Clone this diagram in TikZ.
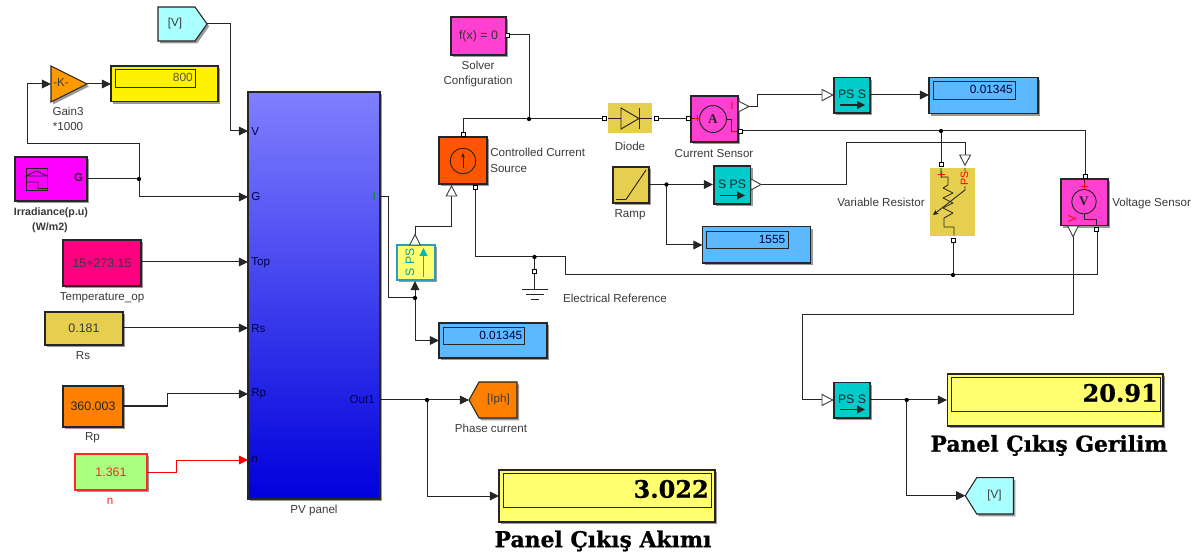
\documentclass[tikz,border=0pt]{standalone}
\usepackage{fontspec}
\setmainfont{Liberation Sans}
\newfontfamily\serifbig[FakeBold=0.8]{DejaVu Serif Bold}
\newfontfamily\symf{Liberation Serif}
\usetikzlibrary{arrows.meta,shadows,calc}
\definecolor{txt}{HTML}{3A3A3A}
\definecolor{panelblue}{HTML}{5CB8FF}
\definecolor{bigyellow}{HTML}{FFFF70}
\definecolor{gold}{HTML}{E6CE4E}
\definecolor{teal}{HTML}{00CCCC}
\definecolor{pinkm}{HTML}{FF40D0}
\definecolor{magfull}{HTML}{FF00FF}
\definecolor{gotocyan}{HTML}{AAFFFF}
\definecolor{gainor}{HTML}{FF9A00}
\tikzset{
  shad/.style={drop shadow={shadow xshift=1.6pt,shadow yshift=-1.8pt,opacity=.4,fill=black}},
  blockbox/.style={draw=black!85,line width=.8pt,inner sep=0pt,outer sep=0pt,shad,text=txt,font=\fontsize{9.3}{10}\selectfont},
  flatbox/.style={inner sep=0pt,outer sep=0pt},
  lab/.style={text=txt,font=\fontsize{8.7}{10}\selectfont,inner sep=0pt,text height=5.8pt,text depth=1.7pt,yshift=-1.1pt},
  portlab/.style={text=black!70!blue,font=\fontsize{8.7}{10}\selectfont,inner sep=0pt,anchor=west,yshift=-.6pt},
  wire/.style={draw=black!85,line width=.75pt},
  arr/.style={wire,-{Triangle[length=6.8pt,width=6.5pt]}},
  redarr/.style={draw=red,line width=.75pt,-{Triangle[length=6.8pt,width=6.5pt]}},
  portsq/.style={draw=black,fill=white,line width=.6pt,minimum size=3pt,inner sep=0pt,outer sep=0pt},
  opentri/.style={draw=black!75,fill=white,line width=.7pt},
  dispinner/.style={draw=black!85,line width=.6pt},
  disptext/.style={inner sep=0pt,anchor=east,text=black!80!blue,font=\fontsize{8.9}{10}\selectfont},
  bigval/.style={inner sep=0pt,anchor=east,text=black,font=\serifbig\fontsize{18}{20}\selectfont},
  bigcap/.style={inner sep=0pt,text=black,font=\serifbig\fontsize{16.4}{19}\selectfont},
  dotj/.style={fill=black},
  sym/.style={draw=black!85,line width=.7pt},
  redt/.style={text=red,inner sep=0pt,font=\fontsize{8}{9}\selectfont}
}
\newcommand{\blk}[7]{%
  \pgfmathsetmacro\bw{(#4-#2)*0.75}\pgfmathsetmacro\bh{(#5-#3)*0.75}%
  \node[#6,minimum width=\bw pt,minimum height=\bh pt] (#1) at ({(#2+#4)/2},{(#3+#5)/2}) {#7};}
\newcommand{\jdot}[1]{\fill[dotj] (#1) circle (1.6pt);}
\begin{document}
\begin{tikzpicture}[x=0.75pt,y=-0.75pt]
\useasboundingbox (0,0) rectangle (1198,555);
\fill[white] (0,0) rectangle (1198,555);

% ---------- named coordinates
\coordinate (pvV) at (248,131);
\coordinate (pvG) at (248,197);
\coordinate (pvTop) at (248,262);
\coordinate (pvRs) at (248,328);
\coordinate (pvRp) at (248,394);
\coordinate (pvn) at (248,460);
\coordinate (pvI) at (380,197);
\coordinate (pvOut) at (380,400);
\coordinate (jG) at (139,179);
\coordinate (jI) at (415,298);
\coordinate (jOut) at (427,400);
\coordinate (jTop) at (529,119);
\coordinate (jGnd) at (534.5,257);
\coordinate (jRes) at (953,275);
\coordinate (jPos) at (941,131);
\coordinate (jRamp) at (666.5,184.5);
\coordinate (jPSV) at (906.7,400);
\coordinate (gotoVin) at (207,24);
\coordinate (gainIn) at (51,84);
\coordinate (gainOut) at (87,84);
\coordinate (iphTip) at (469,400);
\coordinate (vTip) at (965.3,495.7);
\coordinate (triSPSin) at (451.5,196);
\coordinate (triSPSout) at (415,235);
\coordinate (triCSout) at (749,106.5);
\coordinate (triPS1in) at (822,95);
\coordinate (triSPS2out) at (761,184.5);
\coordinate (triVRin) at (965,155);
\coordinate (triVSout) at (1073,236.7);
\coordinate (triPS2in) at (822,400);

% ---------- wires
\draw[arr] (gotoVin) -- (230,24) -- (230,131) -- (pvV);
\draw[wire] (jG) -- (87,179);
\draw[arr] (jG) -- (139,197) -- (pvG);
\draw[arr] (jG) -- (139,144) -- (27,144) -- (27,84) -- (gainIn);
\draw[arr] (gainOut) -- (111,84);
\draw[arr] (141,262) -- (pvTop);
\draw[arr] (123,328) -- (pvRs);
\draw[arr] (123,406) -- (167,406) -- (167,394) -- (pvRp);
\draw[redarr] (147,472) -- (176,472) -- (176,460) -- (pvn);
\draw[wire] (pvI) -- (388,197) -- (388,298) -- (jI);
\draw[arr] (jI) -- (415,281);
\draw[arr] (jI) -- (415,340.5) -- (439,340.5);
\draw[wire] (triSPSout) -- (415,227) -- (451.5,227) -- (triSPSin);
\draw[arr] (pvOut) -- (iphTip);
\draw[arr] (jOut) -- (427,496) -- (499,496);
\draw[wire] (508,35) -- (529,35) -- (jTop);
\draw[wire] (463,135) -- (463,119) -- (604,119);
\draw[wire] (657,119) -- (688,119);
\draw[wire] (triCSout) -- (757,106.5) -- (757,95) -- (triPS1in);
\draw[arr] (870,95) -- (929,95);
\draw[wire] (741,131) -- (1085,131) -- (1085,176);
\draw[wire] (jPos) -- (941,164);
\draw[wire] (475,188) -- (475,257) -- (565,257) -- (565,275) -- (1097,275) -- (1097,229);
\draw[wire] (jGnd) -- (534.5,272);
\draw[wire] (534.5,272) -- (534.5,289);
\draw[wire] (jRes) -- (953,241);
\draw[arr] (649,184.5) -- (713,184.5);
\draw[arr] (jRamp) -- (666.5,245) -- (702.5,245);
\draw[wire] (triSPS2out) -- (846,184.5) -- (846,143) -- (965,143) -- (triVRin);
\draw[wire] (triVSout) -- (1073,315) -- (802,315) -- (802,400) -- (triPS2in);
\draw[arr] (870,400) -- (947,400);
\draw[arr] (jPSV) -- (906.7,495.7) -- (vTip);

\jdot{jG}\jdot{jI}\jdot{jOut}\jdot{jTop}\jdot{jGnd}\jdot{jRes}\jdot{jPos}\jdot{jRamp}\jdot{jPSV}

% ---------- PV panel and left column
\blk{pv}{248}{92}{380}{499}{blockbox,top color=white!50!blue,bottom color=blue!86!black}{}
\node[portlab] (lV) at (251,131) {V};
\node[portlab] (lG) at (251,196) {G};
\node[portlab] (lTop) at (251,262) {Top};
\node[portlab] (lRs) at (251,328) {Rs};
\node[portlab] (lRp) at (251,393) {Rp};
\node[portlab] (ln) at (251,459) {n};
\node[portlab,anchor=east,text=green!60!black] (lI) at (376,196) {I};
\node[portlab,anchor=east] (lOut) at (375,399) {Out1};
\node[lab] (tpv) at (314,509) {PV panel};

\draw[blockbox,fill=gotocyan] (158,7) -- (195,7) -- (gotoVin) -- (195,41) -- (158,41) -- cycle;
\node[lab] (tgv) at (175,22) {[V]};

\draw[blockbox,fill=gainor] (51,66) -- (gainOut) -- (51,102) -- cycle;
\node[lab] (tk) at (61,82) {-K-};
\node[lab] (tg1) at (68,111) {Gain3};
\node[lab] (tg2) at (68,126) {*1000};

\blk{d800}{111}{66}{218}{101.5}{blockbox,fill=yellow}{}
\draw[dispinner] (115,69.5) rectangle (195.5,87.5);
\node[disptext,text=black!75!yellow] (v800) at (193,77) {800};

\blk{irr}{15}{157}{87}{201}{blockbox,fill=magfull}{}
\draw[sym,line width=.6pt] (26,168) rectangle (47,190);
\draw[sym,line width=.6pt] (26,176) -- (36.5,171) -- (47,176) -- cycle (26,182) -- (38,182) -- (38,188.5) -- (47,188.5);
\node[lab,font=\bfseries\fontsize{8.6}{10}\selectfont,text=black!85] (tG) at (78.5,177) {G};
\node[lab,font=\bfseries\fontsize{8}{10}\selectfont] (ti1) at (51,211) {Irradiance(p.u)};
\node[lab,font=\bfseries\fontsize{8}{10}\selectfont] (ti2) at (50,226) {(W/m2)};

\blk{temp}{63}{240}{141}{286}{blockbox,fill={rgb,255:red,255;green,0;blue,128}}{15+273.15}
\node[lab] (tt) at (102,296) {Temperature\_op};
\blk{rs}{45}{312}{123}{345}{blockbox,fill=gold}{0.181}
\node[lab] (trs) at (83,355) {Rs};
\blk{rp}{63}{386}{123}{427}{blockbox,fill={rgb,255:red,255;green,128;blue,0},text=black!85}{360.003}
\node[lab] (trp) at (92.5,436) {Rp};
\blk{nn}{75}{454}{147}{490}{blockbox,draw=red!85,fill={rgb,255:red,168;green,255;blue,128},text=red!85}{1.361}
\node[lab,text=red!85] (tn) at (110,500) {n};

% ---------- S PS yellow
\blk{sps1}{397}{245}{435}{280}{blockbox,draw=cyan!80!black,fill=bigyellow}{}
\node[rotate=90,inner sep=0pt,text=teal!80!black,font=\fontsize{9.2}{10}\selectfont] (tsps1) at (410,262.5) {S PS};
\draw[teal!90!black,line width=.8pt,-{Triangle[length=6pt,width=6pt]}] (423.5,277) -- (423.5,248);
\draw[opentri] (409.7,245) -- (415,234.5) -- (420.3,245) -- cycle;

% ---------- displays blue
\blk{d1}{439}{323}{547}{358}{blockbox,fill=panelblue}{}
\draw[dispinner] (443,327) rectangle (524.5,344);
\node[disptext] (v1) at (522.5,335.5) {0.01345};
\blk{d2}{929}{77.5}{1038}{113.5}{blockbox,fill=panelblue}{}
\draw[dispinner] (933.5,81) rectangle (1015,99.5);
\node[disptext] (v2) at (1013,89) {0.01345};
\blk{d3}{702.7}{226.7}{810.5}{263}{blockbox,fill=panelblue}{}
\draw[dispinner] (706.5,231) rectangle (788,248);
\node[disptext] (v3) at (785.5,239) {1555};

% ---------- Phase current goto
\draw[blockbox,fill={rgb,255:red,255;green,128;blue,0}] (iphTip) -- (479,382) -- (517,382) -- (517,418) -- (479,418) -- cycle;
\node[lab] (tiph) at (498.5,398) {[Iph]};
\node[lab] (tpc) at (491,428) {Phase current};

% ---------- big display 1
\blk{big1}{499}{470}{715}{522}{blockbox,fill=bigyellow}{}
\draw[dispinner] (503,473.5) rectangle (711,507);
\node[bigval] (v4) at (709,489) {3.022};
\node[bigcap] (cap1) at (603,541) {Panel Çıkış Akımı};

% ---------- Solver
\blk{sol}{451}{17}{506}{55}{blockbox,fill=pinkm,text=black!80}{f(x) = 0}
\node[portsq] (psol) at (507.5,35) {};
\node[lab] (ts1) at (478,65) {Solver};
\node[lab] (ts2) at (478,80) {Configuration};

% ---------- Controlled current source
\blk{ccs}{439}{137}{487}{184}{blockbox,fill={rgb,255:red,255;green,85;blue,0}}{}
\draw[sym] (463,161) circle (9.6pt);
\draw[sym,-{Stealth[length=3.5pt,width=3pt]}] (463,168) -- (463,153);
\node[portsq] (pc1) at (463,134.5) {};
\node[portsq] (pc2) at (475,187) {};
\draw[opentri] (446.2,196) -- (451.5,186) -- (456.8,196) -- cycle;
\node[lab,anchor=west] (tc1) at (490,152) {Controlled Current};
\node[lab,anchor=west] (tc2) at (490,168) {Source};

% ---------- Diode
\blk{di}{608}{103}{652}{133}{flatbox,fill=gold}{}
\draw[sym] (608,118.5) -- (621,118.5) (639,118.5) -- (652,118.5) (639,108) -- (639,129);
\draw[sym] (621,108) -- (639,118.5) -- (621,129) -- cycle;
\node[portsq] (pd1) at (604,118.5) {};
\node[portsq] (pd2) at (656.5,118.5) {};
\node[lab] (td) at (630,146) {Diode};

% ---------- Current sensor
\blk{cs}{691}{96}{738}{142}{blockbox,fill=pinkm}{}
\draw[sym] (713,119) circle (10.1pt);
\node[inner sep=0pt,font=\symf\bfseries\fontsize{10}{11}\selectfont,text=black!85] (tA) at (713,119) {A};
\draw[sym] (691,118.5) -- (699.5,118.5) (726.5,119) -- (731,119) -- (731,131) -- (738,131);
\draw[red,line width=.6pt] (694,118.5) -- (700,118.5) (697,115.5) -- (697,121.5) (732,131) -- (736,131);
\node[redt] (tI) at (732,106) {I};
\draw[opentri] (738.5,101.2) -- (triCSout) -- (738.5,111.8) -- cycle;
\node[portsq] (pcs1) at (688,118.5) {};
\node[portsq] (pcs2) at (740,131) {};
\node[lab] (tcs) at (714,153) {Current Sensor};

% ---------- PS S top
\draw[opentri] (822,89.5) -- (832.8,95) -- (822,100.7) -- cycle;
\blk{ps1}{834}{77.3}{870}{113}{blockbox,fill=teal,text=black!85}{}
\node[inner sep=0pt,font=\fontsize{9.2}{10}\selectfont,text=black!85] (tps1) at (852,94) {PS S};
\draw[black!85,line width=.8pt,-{Triangle[length=6pt,width=6pt]}] (839.5,105) -- (865,105);

% ---------- Ramp
\blk{ramp}{613}{167}{649}{203}{blockbox,fill=gold}{}
\draw[sym] (616,199.5) -- (626,199.5) -- (646,170);
\node[lab] (tr) at (630,213) {Ramp};

% ---------- S PS teal
\blk{sps2}{714}{166}{750.7}{204}{blockbox,fill=teal}{}
\node[inner sep=0pt,font=\fontsize{9.2}{10}\selectfont,text=black!85] (tsps2) at (732,184) {S PS};
\draw[black!85,line width=.8pt,-{Triangle[length=6pt,width=6pt]}] (720,195.5) -- (745,195.5);
\draw[opentri] (751,179) -- (triSPS2out) -- (751,190) -- cycle;

% ---------- Variable resistor
\blk{vr}{930}{168}{975}{235.7}{flatbox,fill=gold}{}
\draw[sym,line width=.65pt,line join=round] (941,168) -- (941,177) -- (948,177) -- (948,185) -- (943,188) -- (953,193) -- (943,198) -- (953,203) -- (943,208) -- (953,213) -- (944,218) -- (944,227) -- (954,227) -- (954,235.7);
\draw[sym,line width=.65pt,-{Stealth[length=4pt,width=4pt]}] (965,168) -- (965,190) -- (933,215);
\draw[opentri] (959.7,155) -- (965,165.3) -- (970.5,155) -- cycle;
\draw[red,line width=.6pt] (937.5,174.5) -- (944.5,174.5) (941,171) -- (941,178);
\node[redt,rotate=90,fill=gold] (tps) at (964.5,178.5) {PS};
\node[portsq] (pv1) at (941,164) {};
\node[portsq] (pv2) at (953,240.7) {};
\node[lab,anchor=east] (tvr) at (925,202) {Variable Resistor};

% ---------- Voltage sensor
\blk{vs}{1061}{179}{1108}{225.7}{blockbox,fill=pinkm}{}
\draw[sym] (1084,201.7) circle (9.2pt);
\node[inner sep=0pt,font=\symf\bfseries\fontsize{10}{11}\selectfont,text=black!85] (tVs) at (1084,201.7) {V};
\draw[sym] (1084,179) -- (1084,189.4) (1084,214) -- (1084,219.5) -- (1096,219.5) -- (1096,225.7);
\draw[red,line width=.6pt] (1080.5,186) -- (1087.5,186) (1084,183) -- (1084,189);
\node[redt,rotate=90] (tVr) at (1072,218.5) {V};
\draw[opentri] (1067.7,226) -- (triVSout) -- (1078.3,226) -- cycle;
\node[portsq] (pvs1) at (1085,176) {};
\node[portsq] (pvs2) at (1096.5,229) {};
\node[lab,anchor=west] (tvs) at (1112,202) {Voltage Sensor};

% ---------- Ground
\node[portsq] (pg) at (534.5,271.5) {};
\draw[sym,line width=.7pt] (521.7,289) -- (547.7,289) (526,294) -- (544,294) (531,299) -- (539,299);
\node[lab] (tgr) at (615,298) {Electrical Reference};

% ---------- PS S lower
\draw[opentri] (822,394.5) -- (832.8,400) -- (822,405.5) -- cycle;
\blk{ps2}{834}{382.3}{870}{418}{blockbox,fill=teal}{}
\node[inner sep=0pt,font=\fontsize{9.2}{10}\selectfont,text=black!85] (tps2) at (852,399) {PS S};
\draw[black!85,line width=.8pt,-{Triangle[length=6pt,width=6pt]}] (839.5,409.5) -- (865,409.5);

% ---------- big display 2
\blk{big2}{947.7}{374}{1163}{426}{blockbox,fill=bigyellow}{}
\draw[dispinner] (951,377.5) rectangle (1160,411);
\node[bigval] (v5) at (1158,393) {20.91};
\node[bigcap] (cap2) at (1049,445.5) {Panel Çıkış Gerilim};

% ---------- V goto lower
\draw[blockbox,fill=gotocyan] (vTip) -- (976.7,477.7) -- (1013.3,477.7) -- (1013.3,514) -- (976.7,514) -- cycle;
\node[lab] (tv2) at (994.5,494) {[V]};
\end{tikzpicture}
\end{document}
